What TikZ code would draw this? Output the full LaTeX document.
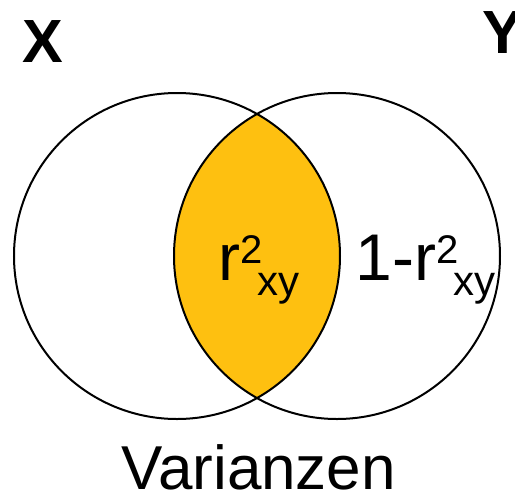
\documentclass[tikz,border=0pt]{standalone}
\usepackage{fontspec}
\setmainfont{Liberation Sans}
\definecolor{lensgold}{RGB}{254,192,16}
\tikzset{
  ring/.style={draw=black, line width=1pt},
  lens/.style={fill=lensgold},
  lbl/.style={inner sep=0pt, anchor=base west, font=\fontsize{33}{36}\selectfont},
  setname/.style={inner sep=0pt, anchor=base west, font=\fontsize{30.5}{32}\selectfont\bfseries}
}
\newcommand{\rsqxy}{r\raisebox{8.5pt}{\fontsize{20}{20}\selectfont 2}\kern-2.5pt\raisebox{-7.5pt}{\fontsize{21}{21}\selectfont xy}}
\begin{document}
\begin{tikzpicture}[x=0.5pt, y=-0.5pt]
  \useasboundingbox (0,0) rectangle (515,494);
  \coordinate (cx) at (177,256);
  \coordinate (cy) at (337,256);

  % shared part of both variances
  \begin{scope}
    \clip (cx) circle[radius=81.5pt];
    \fill[lens] (cy) circle[radius=81.5pt];
  \end{scope}
  \draw[ring] (cx) circle[radius=81.5pt];
  \draw[ring] (cy) circle[radius=81.5pt];

  % labels
  \node[setname] (lx) at (22,62) {X};
  \node[setname] (ly) at (482,53) {Y};
  \node[lbl] (shared) at (218,280) {\rsqxy};
  \node[lbl] (rest) at (355,280) {1-\rsqxy};
  \node[lbl, font=\fontsize{31}{34}\selectfont] (cap) at (121,489) {Varianzen};
\end{tikzpicture}
\end{document}
